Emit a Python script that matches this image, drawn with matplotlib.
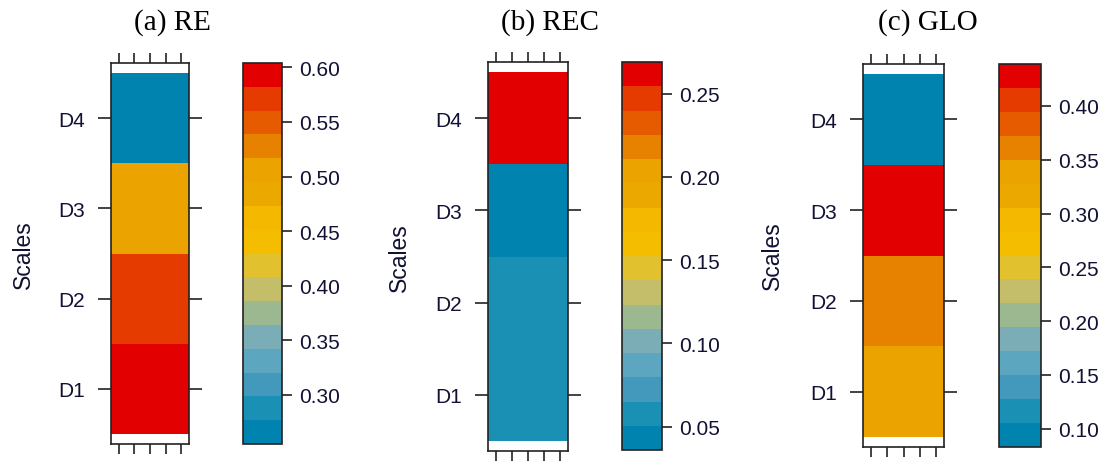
import numpy as np
import matplotlib
matplotlib.use("Agg")
import matplotlib.pyplot as plt
from matplotlib.colors import ListedColormap, BoundaryNorm

# ---------------- data ----------------
scales = ["D1", "D2", "D3", "D4"]
titles = ["(a) RE", "(b) REC", "(c) GLO"]
re_vals = [0.604, 0.575, 0.500, 0.255]
rec_vals = [0.058, 0.059, 0.036, 0.269]
glo_vals = [0.330, 0.360, 0.439, 0.083]
re_ticks = [0.30, 0.35, 0.40, 0.45, 0.50, 0.55, 0.60]
rec_ticks = [0.05, 0.10, 0.15, 0.20, 0.25]
glo_ticks = [0.10, 0.15, 0.20, 0.25, 0.30, 0.35, 0.40]

# 16 colour levels, low -> high
level_colors = ["#0083AE", "#1A91B4", "#4299BB", "#5CA6C0", "#7AADB6", "#9BB891",
                "#C4BE6A", "#E2C12E", "#F5BD00", "#F4B800", "#EBA900", "#EBA300",
                "#E68200", "#E65A00", "#E53A00", "#E30000"]

W, H = 1110, 464
fig = plt.figure(figsize=(W / 100, H / 100), dpi=100)

def px_axes(x0, y0, x1, y1):
    return fig.add_axes([x0 / W, 1 - y1 / H, (x1 - x0) / W, (y1 - y0) / H])

panels = [
    dict(vals=re_vals, ticks=re_ticks, heat=(111, 64, 189, 445), cbar=(243, 64, 282, 445),
         title_x=172, lab=(23, 255)),
    dict(vals=rec_vals, ticks=rec_ticks, heat=(488, 63, 568, 452), cbar=(622, 63, 662, 451),
         title_x=550, lab=(399, 258)),
    dict(vals=glo_vals, ticks=glo_ticks, heat=(863, 65, 944, 448), cbar=(999, 65, 1041, 448),
         title_x=928, lab=(772, 256)),
]

cmap = ListedColormap(level_colors)
edge = "#222222"
sans = "Liberation Sans"

for p, title in zip(panels, titles):
    vals = np.array(p["vals"])
    bounds = np.linspace(vals.min(), vals.max(), len(level_colors) + 1)
    norm = BoundaryNorm(bounds, cmap.N, clip=True)

    ax = px_axes(*p["heat"])
    yedges = np.arange(len(scales) + 1) + 0.5
    mesh = ax.pcolormesh([0, 1], yedges, vals.reshape(-1, 1), cmap=cmap, norm=norm,
                         shading="flat", edgecolors="none")
    ax.set_xlim(0, 1)
    ax.set_ylim(0.39, len(scales) + 0.61)
    ax.set_xticks([0.1, 0.3, 0.5, 0.7, 0.9])
    ax.set_xticklabels([])
    ax.set_yticks(np.arange(1, len(scales) + 1))
    ax.set_yticklabels(scales, fontsize=15, family=sans, color="#111133")
    ax.tick_params(axis="x", which="both", direction="out", top=True, bottom=True,
                   length=7.5, width=1.2, color=edge)
    ax.tick_params(axis="y", which="both", direction="out", left=True, right=True,
                   length=9.5, width=1.2, color=edge, pad=9)
    ax.minorticks_off()
    for s in ax.spines.values():
        s.set_linewidth(1.2)
        s.set_color(edge)

    cax = px_axes(*p["cbar"])
    cb = fig.colorbar(mesh, cax=cax, boundaries=bounds, spacing="proportional",
                      ticks=p["ticks"])
    cb.ax.minorticks_off()
    cb.ax.set_yticklabels([f"{t:.2f}" for t in p["ticks"]], fontsize=15,
                          family=sans, color="#111133")
    cb.ax.tick_params(which="major", length=7.5, width=1.2, color=edge, pad=5)
    cb.ax.tick_params(which="minor", length=0)
    cb.outline.set_linewidth(1.2)
    cb.outline.set_edgecolor(edge)

    fig.text(p["title_x"] / W, 1 - 23 / H, title, ha="center", va="center",
             fontsize=21, family="Liberation Serif", color="#000000")
    fig.text(p["lab"][0] / W, 1 - p["lab"][1] / H, "Scales", ha="center", va="center",
             rotation=90, fontsize=16.5, family=sans, color="#111133")

fig.savefig("out.png", dpi=100)
